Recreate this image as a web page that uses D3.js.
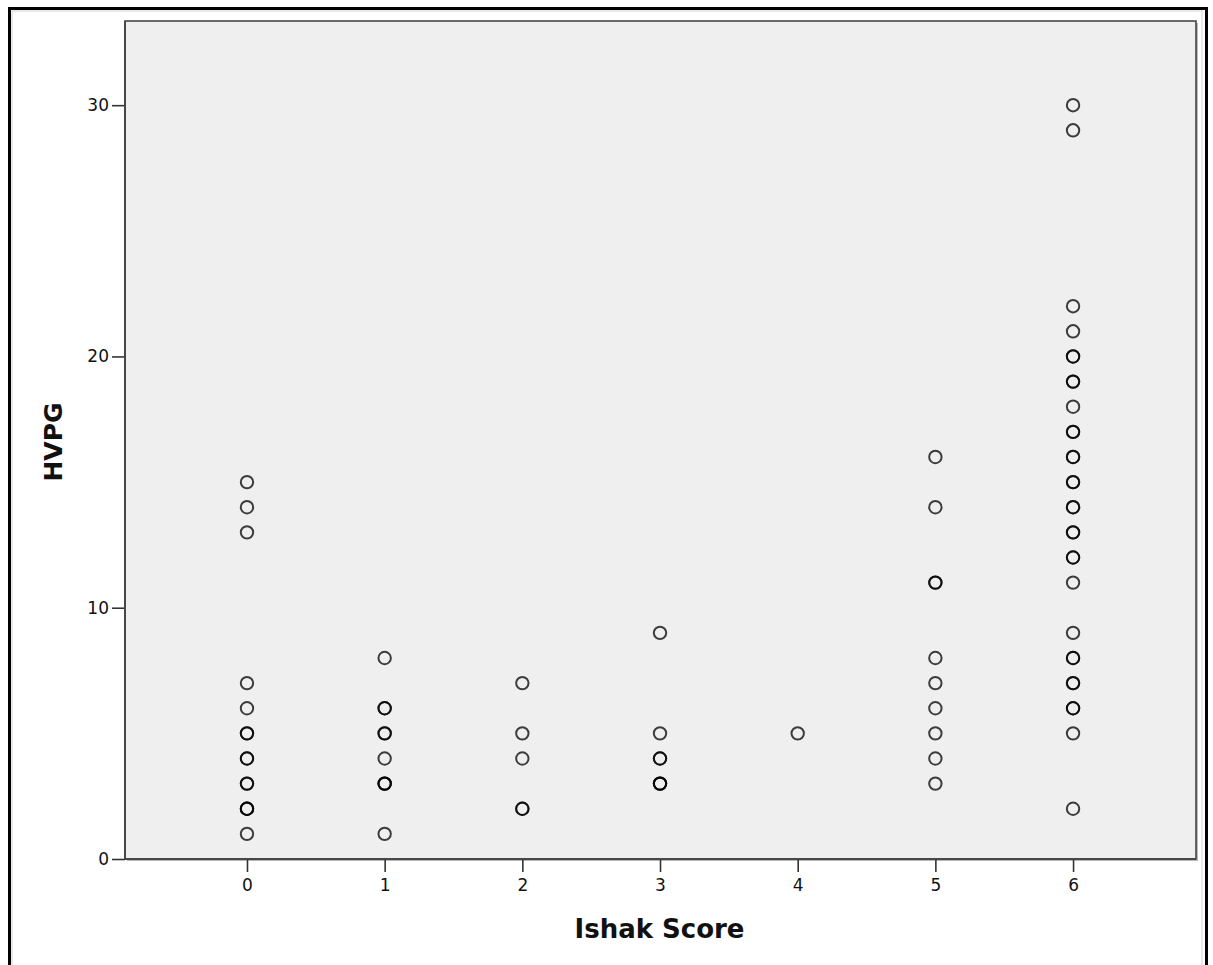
<!DOCTYPE html>
<html>
<head>
<meta charset="utf-8">
<script src="https://cdn.jsdelivr.net/npm/d3@7"></script>
<style>
  html, body { margin: 0; padding: 0; background: #fff; }
  svg { display: block; }
  text { font-family: "DejaVu Sans", Verdana, sans-serif; fill: #111; }
</style>
</head>
<body>
<svg id="chart" width="1213" height="965"></svg>
<script>
// HVPG measurements grouped by Ishak fibrosis score (repeated values overlap)
const ishak0 = [15, 14, 13, 7, 6, 5, 5, 4, 4, 3, 3, 2, 2, 2, 1];
const ishak1 = [8, 6, 6, 5, 5, 4, 3, 3, 3, 1];
const ishak2 = [7, 5, 4, 2, 2];
const ishak3 = [9, 5, 4, 4, 3, 3, 3];
const ishak4 = [5];
const ishak5 = [16, 14, 11, 11, 8, 7, 6, 5, 4, 3];
const ishak6 = [30, 29, 22, 21, 20, 20, 19, 19, 18, 17, 17, 16, 16, 15, 15, 14, 14,
                13, 13, 12, 12, 11, 9, 8, 8, 7, 7, 6, 6, 5, 2];

const xTicks = [0, 1, 2, 3, 4, 5, 6];
const yTicks = [0, 10, 20, 30];
const xTitle = "Ishak Score";
const yTitle = "HVPG";

const groups = [ishak0, ishak1, ishak2, ishak3, ishak4, ishak5, ishak6];
const points = groups.flatMap((vals, score) => vals.map(v => ({ score, hvpg: v })));

const svg = d3.select("#chart");
const plot = { left: 125, top: 21, right: 1196, bottom: 859 };

const x = d3.scaleLinear().domain([-0.886, 6.893]).range([plot.left, plot.right]);
const y = d3.scaleLinear().domain([0, 33.35]).range([plot.bottom, plot.top]);

// outer frame
svg.append("rect")
  .attr("x", 12).attr("y", 11).attr("width", 1190).attr("height", 1000)
  .attr("fill", "none").attr("stroke", "#d4d4d4").attr("stroke-width", 1);
svg.append("rect")
  .attr("x", 9.5).attr("y", 8.5).attr("width", 1197).attr("height", 1000)
  .attr("fill", "none").attr("stroke", "#000").attr("stroke-width", 3);

// plot background with soft shadow
svg.append("rect")
  .attr("x", plot.left + 2).attr("y", plot.top + 2)
  .attr("width", plot.right - plot.left).attr("height", plot.bottom - plot.top)
  .attr("fill", "#b8b8b8");
svg.append("rect")
  .attr("x", plot.left).attr("y", plot.top)
  .attr("width", plot.right - plot.left).attr("height", plot.bottom - plot.top)
  .attr("fill", "#efefef").attr("stroke", "#474747").attr("stroke-width", 1.6);

// axes
const xAxis = svg.append("g")
  .attr("transform", `translate(0,${plot.bottom})`)
  .call(d3.axisBottom(x).tickValues(xTicks).tickFormat(d3.format("d")).tickSize(13).tickPadding(7));
const yAxis = svg.append("g")
  .attr("transform", `translate(${plot.left},0)`)
  .call(d3.axisLeft(y).tickValues(yTicks).tickFormat(d3.format("d")).tickSize(13).tickPadding(3));

[xAxis, yAxis].forEach(g => {
  g.select(".domain").remove();
  g.selectAll(".tick line").attr("stroke", "#333").attr("stroke-width", 1.6);
  g.selectAll(".tick text")
    .attr("font-family", "DejaVu Sans, Verdana, sans-serif")
    .attr("font-size", 17).attr("fill", "#111");
});
// redraw the bottom and left edges above the tick stubs
svg.append("line")
  .attr("x1", plot.left).attr("x2", plot.right).attr("y1", plot.bottom).attr("y2", plot.bottom)
  .attr("stroke", "#474747").attr("stroke-width", 2);
svg.append("line")
  .attr("x1", plot.left).attr("x2", plot.left).attr("y1", plot.top).attr("y2", plot.bottom)
  .attr("stroke", "#474747").attr("stroke-width", 2);

// points
svg.append("g")
  .selectAll("circle")
  .data(points)
  .join("circle")
  .attr("cx", d => x(d.score))
  .attr("cy", d => y(d.hvpg))
  .attr("r", 6.2)
  .attr("fill", "none")
  .attr("stroke", "#000")
  .attr("stroke-opacity", 0.75)
  .attr("stroke-width", 2);

// axis titles
svg.append("text")
  .attr("x", (plot.left + plot.right) / 2 - 1)
  .attr("y", 938)
  .attr("text-anchor", "middle")
  .attr("font-weight", "bold")
  .attr("font-size", 26)
  .text(xTitle);
svg.append("text")
  .attr("transform", `translate(62,${(plot.top + plot.bottom) / 2 + 2}) rotate(-90)`)
  .attr("text-anchor", "middle")
  .attr("font-weight", "bold")
  .attr("font-size", 25)
  .text(yTitle);
</script>
</body>
</html>
